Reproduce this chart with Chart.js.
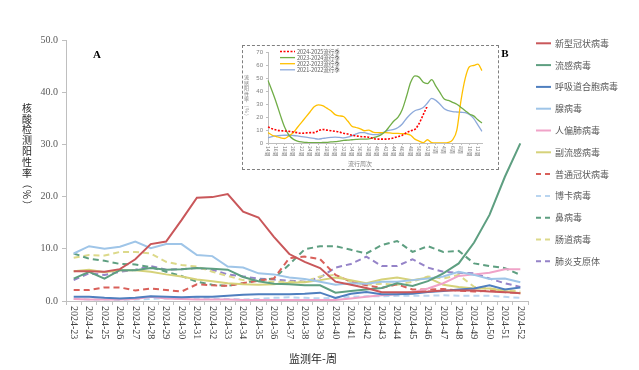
<!DOCTYPE html>
<html>
<head>
<meta charset="utf-8">
<script src="https://cdn.jsdelivr.net/npm/chart.js@4.4.1/dist/chart.umd.min.js"></script>
<style>
html, body { margin: 0; padding: 0; background: #fff; }
#wrap { position: relative; width: 639px; height: 370px; }
canvas { display: block; }
#inset { position: absolute; left: 242px; top: 45px; width: 257px; height: 125px; box-sizing: border-box; border: 1px dashed #7f7f7f; background: #fff; }
</style>
</head>
<body>
<div id="wrap">
  <canvas id="main" width="639" height="370"></canvas>
  <div id="inset"><canvas id="flu" width="255" height="123"></canvas></div>
</div>
<script>
// main chart: weekly positivity, 2024-23 .. 2024-52
const weeks = ['2024-23','2024-24','2024-25','2024-26','2024-27','2024-28','2024-29','2024-30','2024-31','2024-32',
  '2024-33','2024-34','2024-35','2024-36','2024-37','2024-38','2024-39','2024-40','2024-41','2024-42',
  '2024-43','2024-44','2024-45','2024-46','2024-47','2024-48','2024-49','2024-50','2024-51','2024-52'];

const covid   = [5.7,5.7,5.6,6.1,8.0,10.9,11.4,15.5,19.8,19.9,20.5,17.1,16.0,12.3,9.0,7.5,6.3,3.7,3.1,2.5,1.7,1.7,1.7,1.8,2.0,2.0,2.0,1.8,1.7,1.5];
const flu     = [4.3,5.6,4.3,5.9,5.9,6.3,6.0,6.1,6.3,6.2,6.0,4.6,3.8,3.3,3.2,3.0,3.0,1.6,1.9,2.2,2.5,3.4,2.9,3.8,5.3,7.2,11.2,16.5,23.8,30.2];
const rsv     = [0.8,0.8,0.6,0.5,0.6,0.9,0.8,0.7,0.8,0.8,1.0,1.2,1.3,1.3,1.3,1.4,1.6,0.6,1.4,1.7,1.3,1.3,1.4,1.7,1.9,2.2,2.4,3.0,2.2,2.6];
const adeno   = [9.1,10.5,10.0,10.4,11.4,10.1,10.9,10.9,8.8,8.6,6.6,6.4,5.3,5.1,4.5,4.2,3.7,3.1,3.4,3.3,3.7,3.7,4.0,4.3,4.7,5.6,5.0,4.2,4.3,3.6];
const hmpv    = [0.4,0.3,0.3,0.3,0.4,0.8,0.5,0.4,0.3,0.3,0.3,0.2,0.2,0.2,0.2,0.2,0.2,0.2,0.5,0.8,1.1,1.3,1.7,2.4,3.4,4.8,5.1,5.4,6.1,6.1];
const paraflu = [5.7,6.0,5.5,5.9,5.9,5.6,5.1,4.7,4.1,3.8,3.4,3.2,3.1,3.2,3.5,3.6,4.0,4.5,4.0,3.4,4.1,4.5,4.0,4.5,3.1,2.7,2.4,2.4,1.9,1.5];
const hcov    = [2.1,2.1,2.6,2.6,2.0,2.4,2.1,1.8,3.2,3.0,2.9,3.4,3.9,4.3,8.2,8.5,8.0,5.0,3.7,3.0,2.5,3.2,2.2,2.2,2.3,2.0,1.8,2.0,1.7,1.5];
const boca    = [0.4,0.3,0.3,0.2,0.3,0.4,0.5,0.4,0.6,0.5,0.4,0.3,0.4,0.6,0.7,0.6,0.5,0.6,0.8,0.9,0.9,1.0,1.0,1.0,1.1,1.0,1.0,1.0,0.8,0.6];
const rhino   = [9.1,8.1,7.7,7.1,7.0,6.5,5.6,4.8,3.7,3.1,2.9,3.4,4.0,4.3,7.0,9.9,10.5,10.5,9.8,9.1,10.7,11.5,9.4,10.5,9.4,9.6,7.2,6.7,6.3,5.0];
const entero  = [8.3,8.8,8.7,9.4,9.4,9.1,7.5,6.9,6.6,5.6,4.8,4.0,3.8,3.7,3.7,3.7,4.7,5.0,3.7,3.1,3.3,3.1,3.7,4.7,4.3,5.0,2.7,2.4,2.2,1.8];
const myco    = [4.0,5.3,5.0,5.6,6.0,6.7,6.0,6.1,6.3,6.0,5.1,4.7,4.3,4.1,3.9,3.7,4.5,6.4,7.1,8.5,6.7,6.7,8.0,6.4,5.6,5.4,5.3,4.3,3.4,2.7];
const yTicks  = [0, 10, 20, 30, 40, 50];

// inset: influenza positivity by season week (week 14 .. week 13)
const seasonWeeks = [];
for (let w = 14; w <= 52; w++) seasonWeeks.push(w + '周');
for (let w = 1; w <= 13; w++) seasonWeeks.push(w + '周');

const season2024 = [12.5,11,10,9.5,9.3,9,8.5,8,7.5,7.8,8,8,9.5,10.5,10,9.5,9,8.5,7.5,7,6,5.5,5,4.8,4.5,3.5,3,3,3,3.3,4,5,6,8,9.5,10.5,15,22,29];
const season2023 = [48.5,40,31,21,12,6,3,1.5,0.8,0.5,0.3,0.3,0.3,0.4,0.5,0.8,1,1.5,2,2.2,2.5,2.8,3,3,3.2,4,5,6.5,9,13,17,20,26,36,47,52,51,47,46,49,44,39,34,33,31.5,30,27.5,25,22.5,21,18,15.5];
const season2022 = [8,6,5,4,3.5,5.5,8,12,16,20,24,28,29.5,29,27,25,22,21,20.5,17,13,12,11,9.5,10,8.5,8,8,8,7.8,7.5,7.5,7.2,7,6,3,1.5,0.3,2.5,0.3,0,0,0,0.5,2.5,10,33,50,59,60,61,56];
const season2021 = [4,5,5.5,5.8,6,6,5.8,5.5,5,4.5,4,3.5,3,3.5,4,4.3,4.5,4.3,4,4.5,5.5,7,8,8,7,6.5,6.5,7.5,9,10,10.5,12,14.7,19,22.5,25,26,27.5,31,34.5,33,30,26.5,25,24.3,24,23.8,23.5,22,19,14,9];

const cjk = '"Noto Sans CJK SC", sans-serif';
const serif = '"Liberation Serif", "Noto Sans CJK SC", serif';

function series(label, data, color, dashed) {
    return {
        label: label,
        data: data,
        borderColor: color,
        backgroundColor: color,
        borderWidth: 2,
        borderDash: dashed ? [6, 4] : [],
        pointRadius: 0,
        tension: 0,
        fill: false
    };
}

function stackText(ctx, text, x, y, step) {
    for (const ch of text) {
        ctx.save();
        ctx.translate(x, y);
        if (ch === '（' || ch === '）' || ch === '%') ctx.rotate(Math.PI / 2);
        ctx.fillText(ch, 0, 0);
        ctx.restore();
        y += step;
    }
}

const mainDecor = {
    id: 'mainDecor',
    afterDraw(chart) {
        const ctx = chart.ctx;
        const xs = chart.scales.x;
        ctx.save();
        // x tick labels, rotated clockwise
        ctx.font = '10px ' + serif;
        ctx.fillStyle = '#404040';
        ctx.textAlign = 'left';
        ctx.textBaseline = 'middle';
        weeks.forEach((w, i) => {
            ctx.save();
            ctx.translate(xs.getPixelForTick(i), 306);
            ctx.rotate(Math.PI / 2);
            ctx.fillText(w, 0, 0);
            ctx.restore();
        });
        // axis titles
        ctx.textAlign = 'center';
        ctx.fillStyle = '#262626';
        ctx.font = '11px ' + cjk;
        ctx.fillText('监测年-周', 313, 359);
        ctx.font = '10px ' + cjk;
        stackText(ctx, '核酸检测阳性率（%）', 27, 108, 10.8);
        // panel letters
        ctx.font = 'bold 11px ' + serif;
        ctx.fillStyle = '#000';
        ctx.fillText('A', 97, 55);
        ctx.fillText('B', 505, 54);
        // legend
        ctx.font = '9px ' + cjk;
        ctx.textAlign = 'left';
        chart.data.datasets.forEach((ds, i) => {
            const y = 43.3 + i * 21.8;
            ctx.strokeStyle = ds.borderColor;
            ctx.lineWidth = 2;
            ctx.setLineDash(ds.borderDash.length ? [5, 4] : []);
            ctx.beginPath();
            ctx.moveTo(536, y);
            ctx.lineTo(551, y);
            ctx.stroke();
            ctx.fillStyle = '#595959';
            ctx.fillText(ds.label, 555, y);
        });
        ctx.restore();
    }
};

new Chart(document.getElementById('main'), {
    type: 'line',
    data: {
        labels: weeks,
        datasets: [
            series('新型冠状病毒', covid, '#c9575a', false),
            series('流感病毒', flu, '#5e9f81', false),
            series('呼吸道合胞病毒', rsv, '#4f7fbf', false),
            series('腺病毒', adeno, '#9fc5e8', false),
            series('人偏肺病毒', hmpv, '#f0a3c8', false),
            series('副流感病毒', paraflu, '#d6d27a', false),
            series('普通冠状病毒', hcov, '#d9605a', true),
            series('博卡病毒', boca, '#b9d5f0', true),
            series('鼻病毒', rhino, '#5e9f81', true),
            series('肠道病毒', entero, '#dcd98a', true),
            series('肺炎支原体', myco, '#9583c8', true)
        ]
    },
    options: {
        responsive: false,
        animation: false,
        devicePixelRatio: 1,
        layout: { padding: { top: 40, right: 111, left: 0, bottom: 0 } },
        plugins: { legend: { display: false }, tooltip: { enabled: false } },
        scales: {
            x: {
                offset: true,
                grid: { offset: true, drawOnChartArea: false, color: '#bfbfbf', tickLength: 4 },
                border: { color: '#bfbfbf' },
                ticks: { display: false, autoSkip: false },
                afterFit: s => { s.height = 69; }
            },
            y: {
                min: 0,
                max: 50,
                afterBuildTicks: s => { s.ticks = yTicks.map(v => ({ value: v })); },
                ticks: {
                    callback: v => v.toFixed(1),
                    font: { family: 'Liberation Serif', size: 10 },
                    color: '#595959',
                    padding: 4
                },
                grid: { drawOnChartArea: false, color: '#bfbfbf', tickLength: 4 },
                border: { color: '#bfbfbf' },
                afterFit: s => { s.width = 66; }
            }
        }
    },
    plugins: [mainDecor]
});

const insetDecor = {
    id: 'insetDecor',
    afterDraw(chart) {
        const ctx = chart.ctx;
        const xs = chart.scales.x;
        ctx.save();
        ctx.fillStyle = '#7f7f7f';
        ctx.font = '5px ' + cjk;
        ctx.textAlign = 'left';
        ctx.textBaseline = 'middle';
        seasonWeeks.forEach((w, i) => {
            if (i % 2) return;
            ctx.save();
            ctx.translate(xs.getPixelForTick(i), 100);
            ctx.rotate(Math.PI / 2);
            ctx.fillText(w, 0, 0);
            ctx.restore();
        });
        ctx.textAlign = 'center';
        ctx.font = '6px ' + cjk;
        ctx.fillText('流行周次', 117, 118);
        ctx.font = '5px ' + cjk;
        stackText(ctx, '流感阳性率（%）', 3.5, 31, 5.6);
        // legend
        ctx.textAlign = 'left';
        ctx.font = '5.5px ' + cjk;
        chart.data.datasets.forEach((ds, i) => {
            const y = 5.5 + i * 6.1;
            ctx.strokeStyle = ds.borderColor;
            ctx.lineWidth = ds.borderWidth;
            ctx.setLineDash(ds.borderDash || []);
            ctx.beginPath();
            ctx.moveTo(37, y);
            ctx.lineTo(52, y);
            ctx.stroke();
            ctx.fillStyle = '#595959';
            ctx.fillText(ds.label, 54, y);
        });
        ctx.restore();
    }
};

function seasonLine(label, data, color, width, dash) {
    return {
        label: label,
        data: data,
        borderColor: color,
        borderWidth: width,
        borderDash: dash,
        pointRadius: 0,
        cubicInterpolationMode: 'monotone',
        fill: false
    };
}

new Chart(document.getElementById('flu'), {
    type: 'line',
    data: {
        labels: seasonWeeks,
        datasets: [
            seasonLine('2024-2025流行季', season2024, '#ff0000', 1.6, [2, 1.5]),
            seasonLine('2023-2024流行季', season2023, '#70ad47', 1.3, []),
            seasonLine('2022-2023流行季', season2022, '#ffc000', 1.3, []),
            seasonLine('2021-2022流行季', season2021, '#8eaadb', 1.3, [])
        ]
    },
    options: {
        responsive: false,
        animation: false,
        devicePixelRatio: 1,
        layout: { padding: { top: 5, right: 16, left: 0, bottom: 0 } },
        plugins: { legend: { display: false }, tooltip: { enabled: false } },
        scales: {
            x: {
                grid: {
                    drawOnChartArea: false,
                    tickLength: 2,
                    color: c => (c.index % 2 ? 'rgba(0,0,0,0)' : '#bfbfbf')
                },
                border: { color: '#bfbfbf' },
                ticks: { display: false, autoSkip: false },
                afterFit: s => { s.height = 26; }
            },
            y: {
                min: 0,
                max: 70,
                ticks: {
                    stepSize: 10,
                    font: { family: 'Liberation Sans', size: 6 },
                    color: '#7f7f7f',
                    padding: 3
                },
                grid: { drawOnChartArea: false, color: '#bfbfbf', tickLength: 2 },
                border: { color: '#bfbfbf' },
                afterFit: s => { s.width = 25; }
            }
        }
    },
    plugins: [insetDecor]
});
</script>
</body>
</html>
